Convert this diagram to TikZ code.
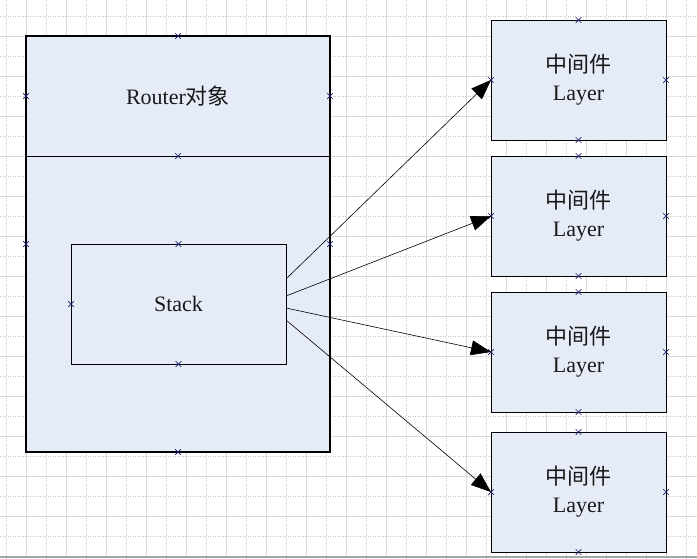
\documentclass[tikz,border=0pt]{standalone}
\usepackage{fontspec}
\setmainfont{Liberation Serif}
\newfontfamily\cjk{Noto Sans CJK SC}
\usetikzlibrary{arrows.meta,shapes.misc,calc}
\definecolor{boxfill}{RGB}{230,236,247}
\definecolor{markc}{RGB}{30,30,110}
\definecolor{gridc}{RGB}{218,218,218}
\definecolor{gridd}{RGB}{200,200,200}
\definecolor{txt}{RGB}{25,25,25}
\begin{document}
\begin{tikzpicture}[x=1pt,y=-1pt,
  gridsolid/.style={draw=gridc,line width=0.7pt},
  griddot/.style={draw=gridd,line width=0.6pt,dash pattern=on 1pt off 1.5pt},
  routerbox/.style={draw=black,line width=1.8pt,fill=boxfill,minimum width=304pt,minimum height=416pt,inner sep=0pt,outer sep=0pt},
  headbox/.style={minimum width=304pt,minimum height=120pt,inner sep=0pt,outer sep=0pt,font=\fontsize{22pt}{24pt}\selectfont,text=txt},
  stackbox/.style={draw=black,line width=0.9pt,fill=boxfill,minimum width=215pt,minimum height=120pt,inner sep=0pt,outer sep=0pt,font=\fontsize{22pt}{24pt}\selectfont,text=txt},
  layerbox/.style={draw=black,line width=0.9pt,fill=boxfill,minimum width=175pt,minimum height=120pt,inner sep=0pt,outer sep=0pt,align=center,font=\fontsize{22pt}{28pt}\selectfont,text=txt},
  xmark/.style={cross out,draw=markc,line width=0.7pt,minimum size=5pt,inner sep=0pt},
  link/.style={draw=black,line width=0.6pt,-{Triangle[length=20pt,width=15pt]}}
]
\useasboundingbox (0,0) rectangle (697,558);
\fill[white] (0,0) rectangle (697,558);
% grid
\foreach \k in {0,2,...,34} {\draw[griddot] (6.7+20*\k,0) -- (6.7+20*\k,558);}
\foreach \k in {1,3,...,33} {\draw[gridsolid] (6.7+20*\k,0) -- (6.7+20*\k,558);}
\foreach \k in {0,2,...,26} {\draw[griddot] (0,16.7+20*\k) -- (697,16.7+20*\k);}
\foreach \k in {1,3,...,27} {\draw[gridsolid] (0,16.7+20*\k) -- (697,16.7+20*\k);}
\draw[gray!70,line width=1.5pt] (0,557) -- (697,557);

% router object
\node[routerbox] (router) at (178,244) {};
\node[headbox] (rhead) at (178,96) {\raisebox{-1pt}{Router{\cjk 对象}}};
\draw[line width=0.9pt] (rhead.south west) -- (rhead.south east);
\node[stackbox] (stack) at (178.5,304) {Stack};

% layers
\node[layerbox] (l1) at (578.5,80) {{\cjk 中间件}\\Layer};
\node[layerbox] (l2) at (578.5,216) {{\cjk 中间件}\\Layer};
\node[layerbox] (l3) at (578.5,352) {{\cjk 中间件}\\Layer};
\node[layerbox] (l4) at (578.5,492) {{\cjk 中间件}\\Layer};

% connection points
\node[xmark] (rm1) at (router.north) {};
\node[xmark] (rm2) at (router.west |- rhead.center) {};
\node[xmark] (rm3) at (router.east |- rhead.center) {};
\node[xmark] (rm4) at (rhead.south) {};
\node[xmark] (rm5) at (router.west) {};
\node[xmark] (rm6) at (router.east) {};
\node[xmark] (rm7) at (router.south) {};
\node[xmark] (sm1) at (stack.north) {};
\node[xmark] (sm2) at (stack.west) {};
\node[xmark] (sm3) at (stack.south) {};
\foreach \n in {l1,l2,l3,l4} {
  \node[xmark] (\n n) at (\n.north) {};
  \node[xmark] (\n s) at (\n.south) {};
  \node[xmark] (\n w) at (\n.west) {};
  \node[xmark] (\n e) at (\n.east) {};
}

% arrows
\coordinate (s1) at ($(stack.east)+(0,-25)$);
\coordinate (s2) at ($(stack.east)+(0,-8)$);
\coordinate (s3) at ($(stack.east)+(0,4)$);
\coordinate (s4) at ($(stack.east)+(0,16)$);
\draw[link] (s1) -- (l1.west);
\draw[link] (s2) -- (l2.west);
\draw[link] (s3) -- (l3.west);
\draw[link] (s4) -- (l4.west);
\end{tikzpicture}
\end{document}
